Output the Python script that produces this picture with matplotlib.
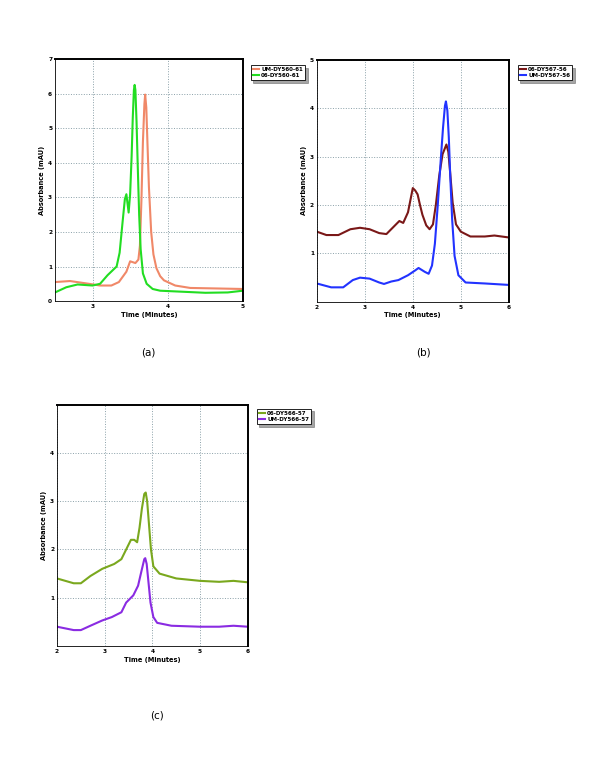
import numpy as np
import matplotlib
matplotlib.use('Agg')
import matplotlib.pyplot as plt

# panel (a)
a_labels = ['UM-DY560-61', '06-DY560-61']
a_um_t = [2.5, 2.7, 2.95, 3.1, 3.25, 3.35, 3.45, 3.5, 3.57, 3.61, 3.63, 3.65, 3.67, 3.69, 3.7, 3.715, 3.73, 3.75, 3.78, 3.81, 3.85, 3.9, 3.95, 4.1, 4.3, 5.0]
a_um_y = [0.55, 0.58, 0.5, 0.45, 0.45, 0.55, 0.85, 1.15, 1.1, 1.2, 1.6, 2.9, 4.6, 5.7, 5.97, 5.6, 4.6, 3.3, 2.0, 1.35, 0.95, 0.72, 0.6, 0.45, 0.38, 0.35]
a_06_t = [2.5, 2.65, 2.8, 3.0, 3.1, 3.2, 3.32, 3.36, 3.4, 3.43, 3.45, 3.48, 3.5, 3.52, 3.535, 3.55, 3.56, 3.57, 3.585, 3.6, 3.62, 3.64, 3.67, 3.72, 3.8, 3.9, 4.2, 4.5, 4.8, 5.0]
a_06_y = [0.25, 0.4, 0.48, 0.45, 0.5, 0.75, 1.0, 1.4, 2.3, 2.95, 3.09, 2.56, 3.1, 4.2, 5.3, 6.1, 6.25, 6.1, 5.2, 4.0, 2.5, 1.5, 0.8, 0.5, 0.35, 0.3, 0.27, 0.24, 0.25, 0.3]

# panel (b)
b_labels = ['06-DY567-56', 'UM-DY567-56']
b_06_t = [2.0, 2.2, 2.45, 2.7, 2.9, 3.1, 3.3, 3.45, 3.6, 3.72, 3.8, 3.9, 3.96, 4.0, 4.05, 4.1, 4.15, 4.2, 4.28, 4.35, 4.42, 4.48, 4.55, 4.62, 4.7, 4.74, 4.78, 4.83, 4.9, 5.0, 5.2, 5.5, 5.7, 6.0]
b_06_y = [1.45, 1.38, 1.38, 1.5, 1.53, 1.5, 1.42, 1.4, 1.55, 1.67, 1.63, 1.85, 2.15, 2.35, 2.3, 2.22, 2.0, 1.8, 1.58, 1.5, 1.6, 2.0, 2.6, 3.05, 3.25, 3.1, 2.65, 2.05, 1.6, 1.45, 1.35, 1.35, 1.37, 1.33]
b_um_t = [2.0, 2.3, 2.55, 2.75, 2.9, 3.1, 3.3, 3.4, 3.55, 3.7, 3.9, 4.05, 4.12, 4.25, 4.33, 4.4, 4.46, 4.52, 4.58, 4.63, 4.67, 4.69, 4.72, 4.75, 4.78, 4.82, 4.87, 4.95, 5.1, 5.5, 6.0]
b_um_y = [0.38, 0.3, 0.3, 0.45, 0.5, 0.48, 0.4, 0.37, 0.42, 0.45, 0.55, 0.65, 0.7, 0.62, 0.58, 0.75, 1.2, 2.0, 2.9, 3.6, 4.05, 4.14, 3.95, 3.4, 2.6, 1.7, 0.95, 0.55, 0.4, 0.38, 0.35]

# panel (c)
c_labels = ['06-DY566-57', 'UM-DY566-57']
c_06_t = [2.0, 2.35, 2.5, 2.7, 2.95, 3.2, 3.35, 3.45, 3.55, 3.62, 3.68, 3.73, 3.78, 3.83, 3.86, 3.89, 3.93, 3.97, 4.02, 4.15, 4.5, 5.0, 5.4, 5.7, 6.0]
c_06_y = [1.4, 1.3, 1.3, 1.45, 1.6, 1.7, 1.8, 2.0, 2.2, 2.2, 2.15, 2.45, 2.85, 3.15, 3.18, 3.0, 2.5, 2.0, 1.65, 1.5, 1.4, 1.35, 1.33, 1.35, 1.32]
c_um_t = [2.0, 2.35, 2.5, 2.7, 2.95, 3.15, 3.35, 3.45, 3.6, 3.7, 3.77, 3.83, 3.85, 3.88, 3.92, 3.96, 4.02, 4.1, 4.4, 5.0, 5.4, 5.7, 6.0]
c_um_y = [0.4, 0.33, 0.33, 0.42, 0.53, 0.6, 0.7, 0.9, 1.05, 1.25, 1.55, 1.8, 1.82, 1.7, 1.3, 0.9, 0.6, 0.48, 0.42, 0.4, 0.4, 0.42, 0.4]


def style_axes(ax, xlim, ylim, xticks, yticks):
    ax.set_xlim(*xlim)
    ax.set_ylim(*ylim)
    ax.set_xticks(xticks)
    ax.set_yticks(yticks)
    ax.tick_params(labelsize=4.2, length=0, pad=2)
    for lab in ax.get_xticklabels() + ax.get_yticklabels():
        lab.set_fontweight('bold')
    ax.grid(True, linestyle=':', color='#8aa0a8', linewidth=0.7)
    ax.spines['left'].set_linewidth(0.6)
    ax.spines['bottom'].set_linewidth(0.6)
    ax.spines['top'].set_linewidth(1.4)
    ax.spines['right'].set_linewidth(1.4)
    ax.set_xlabel('Time (Minutes)', fontsize=4.8, fontweight='bold', labelpad=2)
    ax.set_ylabel('Absorbance (mAU)', fontsize=4.8, fontweight='bold', labelpad=2)


def add_legend(ax, anchor):
    leg = ax.legend(loc='upper left', bbox_to_anchor=anchor, bbox_transform=fig.transFigure,
                    handlelength=1.2, handletextpad=0.3, borderpad=0.4,
                    labelspacing=0.2, fancybox=False, shadow=True, edgecolor='black',
                    prop={'size': 4, 'weight': 'bold'})
    leg.get_frame().set_linewidth(0.6)


fig = plt.figure(figsize=(6, 7.76), dpi=100)

ax1 = fig.add_axes([0.0917, 0.612, 0.313, 0.312])
ax1.plot(a_um_t, a_um_y, color='#f08868', lw=1.5, label=a_labels[0])
ax1.plot(a_06_t, a_06_y, color='#22dd22', lw=1.5, label=a_labels[1])
style_axes(ax1, (2.5, 5), (0, 7), [3, 4, 5], range(0, 8))
add_legend(ax1, (0.413, 0.92))

ax2 = fig.add_axes([0.528, 0.611, 0.32, 0.312])
ax2.plot(b_06_t, b_06_y, color='#7a1818', lw=1.5, label=b_labels[0])
ax2.plot(b_um_t, b_um_y, color='#2233ff', lw=1.5, label=b_labels[1])
style_axes(ax2, (2, 6), (0, 5), [2, 3, 4, 5, 6], [1, 2, 3, 4, 5])
add_legend(ax2, (0.858, 0.92))

ax3 = fig.add_axes([0.095, 0.1675, 0.318, 0.311])
ax3.plot(c_06_t, c_06_y, color='#7aa81e', lw=1.5, label=c_labels[0])
ax3.plot(c_um_t, c_um_y, color='#8a2be2', lw=1.5, label=c_labels[1])
style_axes(ax3, (2, 6), (0, 5), [2, 3, 4, 5, 6], [1, 2, 3, 4])
add_legend(ax3, (0.423, 0.477))

fig.text(148 / 600, 1 - 353 / 776, '(a)', ha='center', va='center', fontsize=7.5)
fig.text(423 / 600, 1 - 353 / 776, '(b)', ha='center', va='center', fontsize=7.5)
fig.text(157 / 600, 1 - 715 / 776, '(c)', ha='center', va='center', fontsize=7.5)

fig.savefig('out.png', dpi=100)
